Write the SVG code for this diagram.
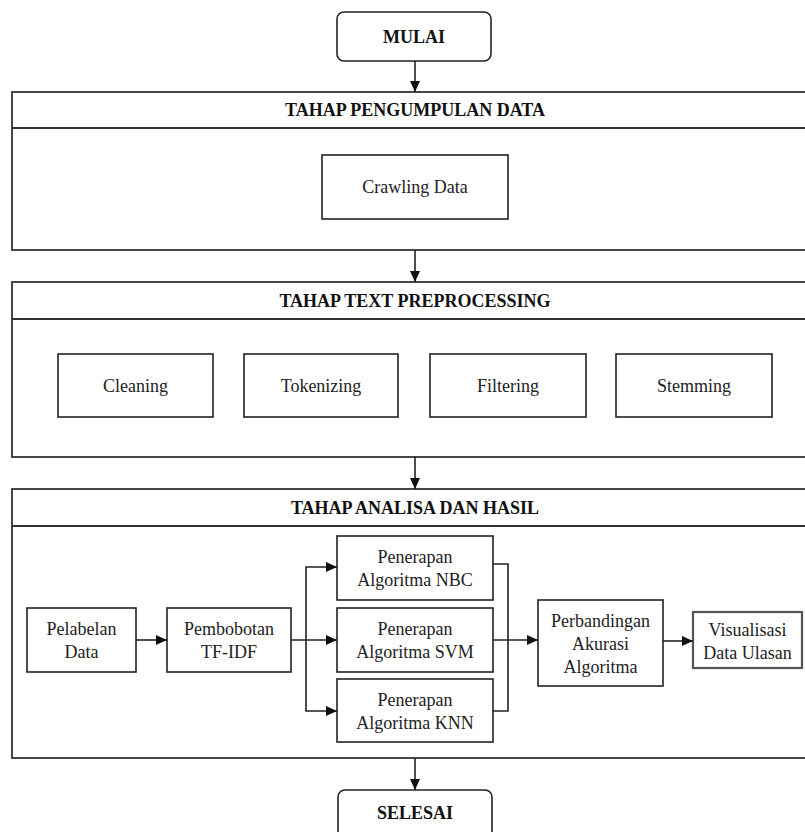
<svg xmlns="http://www.w3.org/2000/svg" width="805" height="832" viewBox="0 0 805 832">
<style>
.box{fill:#fff;stroke:#222;stroke-width:1.6}
.cont{fill:#fff;stroke:#333;stroke-width:1.8}
.t{font-family:'Liberation Serif','Times New Roman',Tinos,'Noto Serif','DejaVu Serif',serif;font-size:18px;fill:#222;text-anchor:middle}
.h{font-family:'Liberation Serif','Times New Roman',Tinos,'Noto Serif','DejaVu Serif',serif;font-size:18px;font-weight:bold;fill:#111;text-anchor:middle}
.ln{fill:none;stroke:#222;stroke-width:1.6}
</style>
<defs>
<marker id="ah" markerUnits="userSpaceOnUse" markerWidth="12" markerHeight="12" refX="11" refY="6" orient="auto">
<path d="M0,1 L11,6 L0,11 z" fill="#111"/>
</marker>
</defs>

<g id="mulai">
<rect class="box" x="337" y="12" width="154" height="49" rx="7"/>
<text class="h" x="414" y="42.5">MULAI</text>
</g>

<g id="stage1">
<rect class="cont" x="12" y="92" width="810" height="158"/>
<line class="cont" x1="12" y1="128" x2="822" y2="128"/>
<text class="h" x="415" y="116">TAHAP PENGUMPULAN DATA</text>
</g>
<g id="crawling">
<rect class="box" x="322" y="155" width="186" height="64"/>
<text class="t" x="415" y="193">Crawling Data</text>
</g>

<g id="stage2">
<rect class="cont" x="12" y="282" width="810" height="175"/>
<line class="cont" x1="12" y1="319" x2="822" y2="319"/>
<text class="h" x="415" y="306.5">TAHAP TEXT PREPROCESSING</text>
</g>
<g id="cleaning">
<rect class="box" x="58" y="354" width="155" height="63"/>
<text class="t" x="135.5" y="391.5">Cleaning</text>
</g>
<g id="tokenizing">
<rect class="box" x="244" y="354" width="154" height="63"/>
<text class="t" x="321" y="391.5">Tokenizing</text>
</g>
<g id="filtering">
<rect class="box" x="430" y="354" width="156" height="63"/>
<text class="t" x="508" y="391.5">Filtering</text>
</g>
<g id="stemming">
<rect class="box" x="616" y="354" width="156" height="63"/>
<text class="t" x="694" y="391.5">Stemming</text>
</g>

<g id="stage3">
<rect class="cont" x="12" y="489" width="810" height="269"/>
<line class="cont" x1="12" y1="526" x2="822" y2="526"/>
<text class="h" x="415" y="513.5">TAHAP ANALISA DAN HASIL</text>
</g>
<g id="pelabelan">
<rect class="box" x="27" y="608" width="109" height="64"/>
<text class="t" x="81.5" y="635">Pelabelan</text>
<text class="t" x="81.5" y="658">Data</text>
</g>
<g id="pembobotan">
<rect class="box" x="167" y="608" width="124" height="64"/>
<text class="t" x="229" y="635">Pembobotan</text>
<text class="t" x="229" y="658">TF-IDF</text>
</g>
<g id="nbc">
<rect class="box" x="337" y="536" width="156" height="64"/>
<text class="t" x="415" y="563">Penerapan</text>
<text class="t" x="415" y="586">Algoritma NBC</text>
</g>
<g id="svm">
<rect class="box" x="337" y="608" width="156" height="64"/>
<text class="t" x="415" y="635">Penerapan</text>
<text class="t" x="415" y="658">Algoritma SVM</text>
</g>
<g id="knn">
<rect class="box" x="337" y="679" width="156" height="63"/>
<text class="t" x="415" y="706">Penerapan</text>
<text class="t" x="415" y="729">Algoritma KNN</text>
</g>
<g id="perbandingan">
<rect class="box" x="538" y="600" width="125" height="86"/>
<text class="t" x="600.5" y="627">Perbandingan</text>
<text class="t" x="600.5" y="650">Akurasi</text>
<text class="t" x="600.5" y="673">Algoritma</text>
</g>
<g id="visualisasi">
<rect class="box" x="693" y="612" width="109" height="56" style="stroke:#555;stroke-width:2.2"/>
<text class="t" x="747.5" y="636">Visualisasi</text>
<text class="t" x="747.5" y="659">Data Ulasan</text>
</g>

<g id="selesai">
<rect class="box" x="338" y="790" width="154" height="60" rx="7"/>
<text class="h" x="415" y="819">SELESAI</text>
</g>

<g id="connectors">
<line class="ln" x1="415" y1="61" x2="415" y2="92" marker-end="url(#ah)"/>
<line class="ln" x1="415" y1="250" x2="415" y2="282" marker-end="url(#ah)"/>
<line class="ln" x1="415" y1="457" x2="415" y2="489" marker-end="url(#ah)"/>
<line class="ln" x1="415" y1="758" x2="415" y2="790" marker-end="url(#ah)"/>
<line class="ln" x1="136" y1="640" x2="167" y2="640" marker-end="url(#ah)"/>
<line class="ln" x1="291" y1="640" x2="337" y2="640" marker-end="url(#ah)"/>
<polyline class="ln" points="306,640 306,567 337,567" marker-end="url(#ah)"/>
<polyline class="ln" points="306,640 306,711 337,711" marker-end="url(#ah)"/>
<polyline class="ln" points="493,564 508,564 508,711 493,711"/>
<line class="ln" x1="493" y1="640" x2="538" y2="640" marker-end="url(#ah)"/>
<line class="ln" x1="663" y1="641" x2="693" y2="641" marker-end="url(#ah)"/>
</g>
</svg>
